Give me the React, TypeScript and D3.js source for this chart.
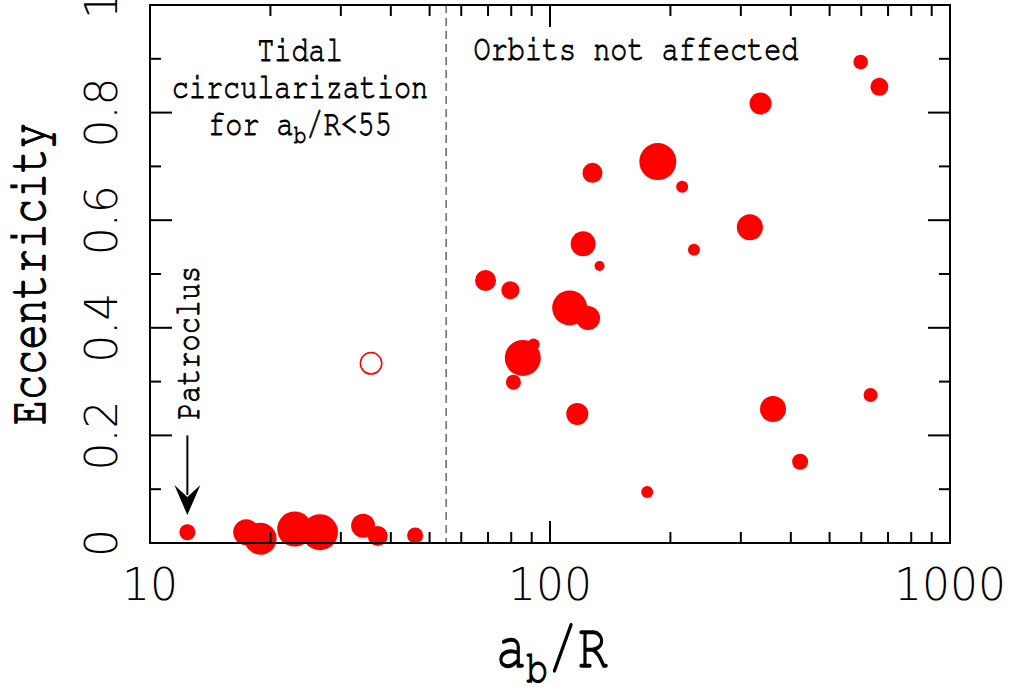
import * as d3 from "d3";

// binaries: a_b/R, eccentricity, marker size
const abR = [12.4, 17.4, 18.9, 23.0, 26.6, 34.1, 37.1, 46, 91, 127.7, 186, 214, 316, 229, 121, 133, 69, 79.6, 112, 124.5, 85.5, 81, 117, 598, 666, 336, 361, 633, 422, 175];
const ecc = [0.02, 0.02, 0.008, 0.026, 0.02, 0.032, 0.013, 0.014, 0.369, 0.688, 0.709, 0.662, 0.587, 0.545, 0.556, 0.515, 0.488, 0.47, 0.437, 0.418, 0.344, 0.299, 0.24, 0.894, 0.848, 0.817, 0.249, 0.275, 0.151, 0.095];
const size = [8, 13, 16, 17.5, 18, 12, 10, 8, 6, 10, 18.5, 6, 13, 6, 12.5, 5, 10.5, 9, 17.5, 12, 18, 7.5, 11, 7.3, 9, 11, 13, 7, 8, 6];

// the one open symbol
const openAbR = [35.7];
const openEcc = [0.334];
const openSize = [10.7];

const xTickLabels = [10, 100, 1000];
const yTickLabels = [0, 0.2, 0.4, 0.6, 0.8, 1];
const yMinor = [0.1, 0.3, 0.5, 0.7, 0.9];
const xMinor = [20, 30, 40, 50, 60, 70, 80, 90, 200, 300, 400, 500, 600, 700, 800, 900];

const tidalLimit = 55;

const width = 1013;
const height = 690;
const margin = { top: 5, right: 63, bottom: 147, left: 150 };

const monoFont = "FreeMono, 'Courier New', monospace";
const tickFont = "'DejaVu Sans', 'Lato', sans-serif";
const stretch = 1.28; // the plot font is taller than FreeMono

// text with glyphs stretched vertically, optionally rotated
function SText({ x, y, rot = 0, children, ...rest }: any) {
  const rotate = rot ? ` rotate(${rot})` : "";
  return (
    <text transform={`translate(${x},${y})${rotate} scale(1,${stretch})`} {...rest}>
      {children}
    </text>
  );
}

export default function App() {
  const x = d3.scaleLog().domain([10, 1000]).range([margin.left, width - margin.right]);
  const y = d3.scaleLinear().domain([0, 1]).range([height - margin.bottom, margin.top]);
  const r = d3.scaleLinear().domain([0, 20]).range([0, 20]);

  const x0 = x.range()[0], x1 = x.range()[1];
  const y0 = y.range()[0], y1 = y.range()[1];

  const arrowX = x(12.4);
  const arrowTop = y(0.2);
  const arrowTip = y(0.052);

  return (
    <svg width={width} height={height} style={{ position: "absolute", left: 0, top: 0, background: "white" }}>
      {/* dashed tidal limit */}
      <line x1={x(tidalLimit)} x2={x(tidalLimit)} y1={y1} y2={y0} stroke="#666" strokeWidth={1.5} strokeDasharray="8,5" />

      {/* points */}
      {abR.map((v, i) => (
        <circle key={i} cx={x(v)} cy={y(ecc[i])} r={r(size[i])} fill="#ff0000" />
      ))}
      {openAbR.map((v, i) => (
        <circle key={"o" + i} cx={x(v)} cy={y(openEcc[i])} r={r(openSize[i])} fill="none" stroke="#ff0000" strokeWidth={1.5} />
      ))}

      {/* ticks */}
      <g stroke="black" strokeWidth={2}>
        {xMinor.map((t) => (
          <g key={"xm" + t}>
            <line x1={x(t)} x2={x(t)} y1={y0} y2={y0 - 11} />
            <line x1={x(t)} x2={x(t)} y1={y1} y2={y1 + 11} />
          </g>
        ))}
        {xTickLabels.map((t) => (
          <g key={"xM" + t}>
            <line x1={x(t)} x2={x(t)} y1={y0} y2={y0 - 22} />
            <line x1={x(t)} x2={x(t)} y1={y1} y2={y1 + 22} />
          </g>
        ))}
        {yMinor.map((t) => (
          <g key={"ym" + t}>
            <line x1={x0} x2={x0 + 11} y1={y(t)} y2={y(t)} />
            <line x1={x1} x2={x1 - 11} y1={y(t)} y2={y(t)} />
          </g>
        ))}
        {yTickLabels.map((t) => (
          <g key={"yM" + t}>
            <line x1={x0} x2={x0 + 22} y1={y(t)} y2={y(t)} />
            <line x1={x1} x2={x1 - 22} y1={y(t)} y2={y(t)} />
          </g>
        ))}
      </g>
      <rect x={x0} y={y1} width={x1 - x0} height={y0 - y1} fill="none" stroke="black" strokeWidth={2} />

      {/* tick labels */}
      <g fontFamily={tickFont} fontWeight={200} fontSize={44} fill="black" textAnchor="middle">
        {xTickLabels.map((t) => (
          <text key={"xl" + t} x={x(t)} y={600}>{t}</text>
        ))}
        {yTickLabels.map((t) => (
          <text key={"yl" + t} transform={`translate(117,${y(t)}) rotate(-90)`}>{String(t)}</text>
        ))}
      </g>

      {/* axis titles */}
      <g fontFamily={monoFont} fill="black" stroke="black" strokeWidth={1.1} textAnchor="middle">
        <SText x={552} y={667} fontSize={50}>
          a<tspan fontSize={36} dy={12}>b</tspan><tspan dy={-12}>/R</tspan>
        </SText>
        <SText x={45} y={y(0.5)} rot={-90} fontSize={42}>Eccentricity</SText>
      </g>

      {/* annotations */}
      <g fontFamily={monoFont} fontSize={28.5} fill="black" stroke="black" strokeWidth={0.7} textAnchor="middle">
        <SText x={300} y={61}>Tidal</SText>
        <SText x={300} y={98}>circularization</SText>
        <SText x={300} y={135}>
          for a<tspan fontSize={21} dy={6}>b</tspan><tspan dy={-6}>/R&lt;55</tspan>
        </SText>
        <SText x={636} y={60}>Orbits not affected</SText>
        <SText x={arrowX + 12} y={y(0.372)} rot={-90}>Patroclus</SText>
      </g>

      {/* arrow to Patroclus */}
      <line x1={arrowX} x2={arrowX} y1={arrowTop} y2={arrowTip - 20} stroke="black" strokeWidth={2} />
      <path
        d={`M${arrowX},${arrowTip} L${arrowX - 13},${arrowTip - 30} L${arrowX},${arrowTip - 18} L${arrowX + 13},${arrowTip - 30} Z`}
        fill="black"
      />
    </svg>
  );
}
